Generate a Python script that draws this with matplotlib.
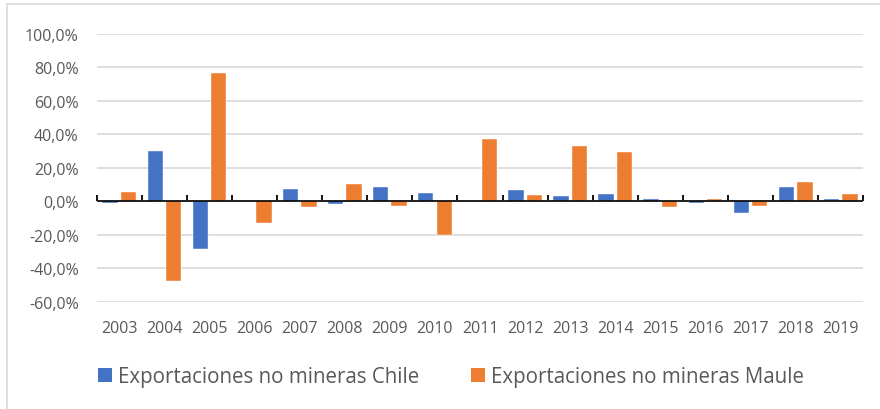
import numpy as np
import matplotlib
matplotlib.use('Agg')
import matplotlib.pyplot as plt
from matplotlib.patches import Patch
from matplotlib.lines import Line2D
from matplotlib.ticker import FuncFormatter

# values (% annual change)
years = ['2003', '2004', '2005', '2006', '2007', '2008', '2009', '2010', '2011',
         '2012', '2013', '2014', '2015', '2016', '2017', '2018', '2019']
chile = [-1.0, 30.3, -28.5, 0.0, 7.5, -1.8, 8.3, 5.1, 0.0,
         6.9, 3.4, 4.4, 1.4, -0.8, -6.9, 8.7, 1.2]
maule = [5.5, -47.9, 76.4, -12.7, -3.6, 10.5, -2.6, -20.2, 37.4,
         4.0, 32.9, 29.7, -3.2, 1.6, -2.6, 11.5, 4.4]
series_names = ['Exportaciones no mineras Chile', 'Exportaciones no mineras Maule']

BLUE = '#4472C4'
ORANGE = '#ED7D31'
TXT = '#595959'
GRID = '#D9D9D9'

plt.rcParams['font.family'] = ['Open Sans', 'DejaVu Sans']

fig = plt.figure(figsize=(8.8, 4.1), dpi=100)
ax = fig.add_axes([0.110, 0.2617, 0.871, 0.653])

x = np.arange(len(years))
w = 0.34
off = 0.205
ax.bar(x - off, chile, w, color=BLUE, edgecolor='white', linewidth=0.3, zorder=3)
ax.bar(x + off, maule, w, color=ORANGE, edgecolor='white', linewidth=0.3, zorder=3)

ax.set_xlim(-0.5, len(years) - 0.5)
ax.set_ylim(-60, 100)
ax.set_yticks(np.arange(-60, 101, 20))
ax.yaxis.set_major_formatter(FuncFormatter(lambda v, p: f'{v:.1f}%'.replace('.', ',')))
ax.grid(axis='y', color=GRID, linewidth=1.2, zorder=0)
ax.set_xticks(x)
ax.set_xticklabels(years)
ax.tick_params(axis='both', length=0, colors=TXT, labelsize=11.5)
ax.tick_params(axis='y', pad=13)
ax.tick_params(axis='x', pad=13)
for s in ax.spines.values():
    s.set_visible(False)

# category axis line at zero, with boundary tick marks pointing up
ax.axhline(0, color='black', linewidth=1.2, zorder=4)
zero_loc = (0 - (-60)) / (100 - (-60))
sec = ax.secondary_xaxis(zero_loc)
sec.set_xticks(np.arange(-0.5, len(years), 1.0))
sec.tick_params(direction='in', length=4, width=1.3, color='black', labelbottom=False)
sec.spines['bottom'].set_visible(False)

# chart frame (left and top edges visible)
fig.add_artist(Line2D([7 / 880, 7 / 880], [0, 1 - 5 / 410], transform=fig.transFigure,
                      color=GRID, linewidth=1.2))
fig.add_artist(Line2D([7 / 880, 1], [1 - 5 / 410, 1 - 5 / 410], transform=fig.transFigure,
                      color=GRID, linewidth=1.2))

handles = [Patch(facecolor=BLUE), Patch(facecolor=ORANGE)]
fig.legend(handles, series_names, loc='center left', bbox_to_anchor=(98 / 880, 1 - 378 / 410),
           ncol=2, frameon=False, fontsize=14.8, labelcolor=TXT,
           handlelength=0.66, handleheight=0.66, handletextpad=0.3, columnspacing=2.55,
           borderaxespad=0, borderpad=0)

fig.savefig('out.png', dpi=100, facecolor='white')
